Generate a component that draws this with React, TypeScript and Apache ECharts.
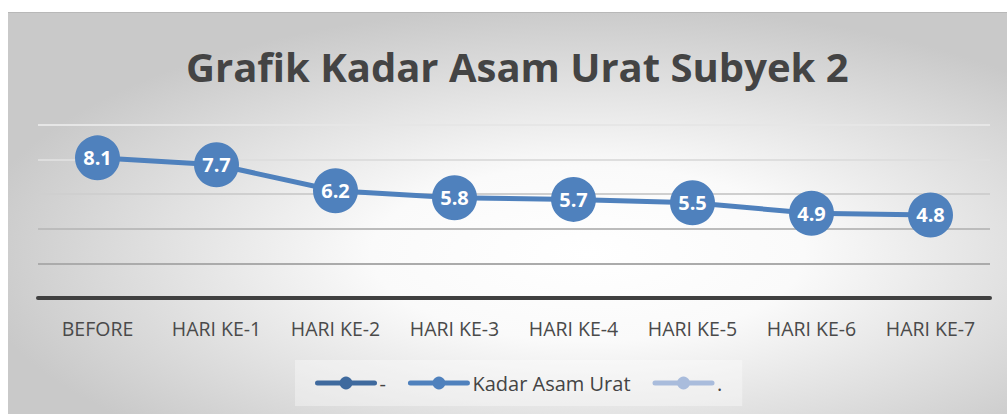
import React, { useEffect, useRef } from "react";
import * as echarts from "echarts";

const categories = ["BEFORE", "HARI KE-1", "HARI KE-2", "HARI KE-3", "HARI KE-4", "HARI KE-5", "HARI KE-6", "HARI KE-7"];
const kadarAsamUrat = [8.1, 7.7, 6.2, 5.8, 5.7, 5.5, 4.9, 4.8];
const seriesDash: number[] = [];
const seriesDot: number[] = [];
const yTicks = { min: 0, max: 10, interval: 2 };
const titleText = "Grafik Kadar Asam Urat Subyek 2";

export default function App() {
  const ref = useRef<HTMLDivElement>(null);
  useEffect(() => {
    document.body.style.overflow = "hidden";
    const chart = echarts.init(ref.current!, undefined, { renderer: "svg" });
    const font = "'Open Sans', 'Noto Sans', sans-serif";
    chart.setOption({
      animation: false,
      backgroundColor: {
        type: "radial",
        x: 0.58,
        y: 0.6,
        r: 0.62,
        colorStops: [
          { offset: 0, color: "#ffffff" },
          { offset: 0.35, color: "#fafafa" },
          { offset: 1, color: "#c9c9c9" },
        ],
      },
      title: {
        text: titleText,
        left: 173,
        top: 28,
        textStyle: { fontFamily: font, fontWeight: "bold", fontSize: 40, color: "#444444" },
      },
      grid: { left: 30, right: 17, top: 112, height: 173, containLabel: false },
      xAxis: {
        type: "category",
        data: categories,
        boundaryGap: true,
        axisLine: { show: true, lineStyle: { color: "#404040", width: 4 } },
        axisTick: { show: false },
        axisLabel: { interval: 0, hideOverlap: false, color: "#4a4a4a", fontFamily: font, fontSize: 19.5, margin: 20 },
      },
      yAxis: {
        type: "value",
        min: yTicks.min,
        max: yTicks.max,
        interval: yTicks.interval,
        axisLabel: { show: false },
        axisLine: { show: false },
        axisTick: { show: false },
        splitLine: {
          show: true,
          lineStyle: { width: 2, color: ["#404040", "#ababab", "#bcbcbc", "#cfcfcf", "#dedede", "#e6e6e6"] },
        },
      },
      legend: {
        bottom: 8,
        left: 287,
        itemWidth: 57,
        itemHeight: 16,
        itemGap: 22,
        backgroundColor: "rgba(255,255,255,0.35)",
        padding: [13, 20, 13, 20],
        lineStyle: { width: 5, cap: "round" },
        textStyle: { color: "#444444", fontFamily: font, fontSize: 20 },
        data: ["-", "Kadar Asam Urat", "."],
      },
      series: [
        {
          name: "-",
          type: "line",
          data: seriesDash,
          color: "#3f6a9e",
          symbol: "circle",
          symbolSize: 10,
          lineStyle: { width: 5, color: "#3f6a9e", cap: "round" },
          itemStyle: { color: "#3f6a9e" },
        },
        {
          name: "Kadar Asam Urat",
          type: "line",
          data: kadarAsamUrat,
          color: "#4f81bd",
          symbol: "circle",
          symbolSize: 45,
          lineStyle: { width: 5, color: "#4f81bd", cap: "round" },
          itemStyle: { color: "#4f81bd" },
          label: {
            show: true,
            position: "inside",
            color: "#ffffff",
            fontFamily: font,
            fontWeight: "bold",
            fontSize: 20,
          },
          z: 3,
        },
        {
          name: ".",
          type: "line",
          data: seriesDot,
          color: "#a9bcdc",
          symbol: "circle",
          symbolSize: 10,
          lineStyle: { width: 5, color: "#a9bcdc", cap: "round" },
          itemStyle: { color: "#a9bcdc" },
        },
      ],
    });
    return () => chart.dispose();
  }, []);
  return (
    <div
      ref={ref}
      style={{
        position: "absolute",
        left: 8,
        top: 12,
        width: 999,
        height: 402,
        borderTop: "1px solid #b8b8b8",
        boxSizing: "border-box",
      }}
    />
  );
}
